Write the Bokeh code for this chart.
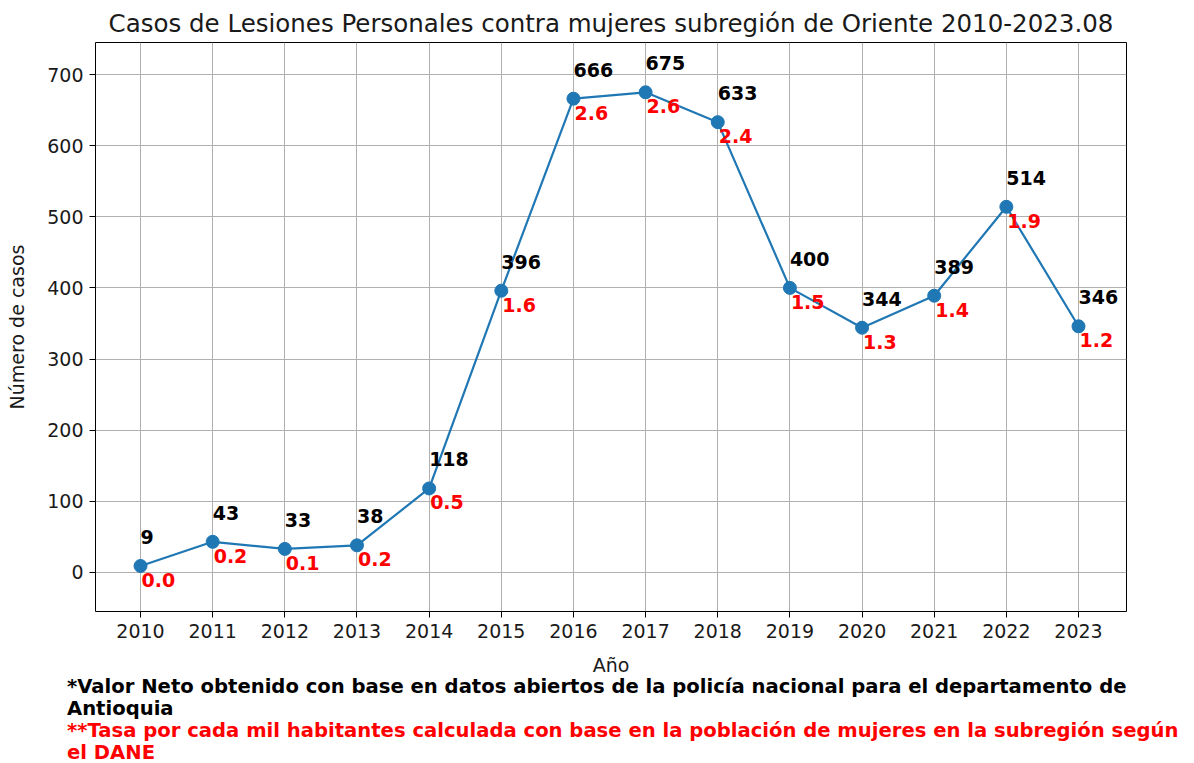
from bokeh.plotting import figure
from bokeh.models import ColumnDataSource, Range1d, FixedTicker, Div
from bokeh.layouts import column
from bokeh.embed import file_html
from bokeh.resources import INLINE
from bokeh.core.properties import value

years = [2010, 2011, 2012, 2013, 2014, 2015, 2016, 2017, 2018, 2019, 2020, 2021, 2022, 2023]
cases = [9, 43, 33, 38, 118, 396, 666, 675, 633, 400, 344, 389, 514, 346]
rates = [0.0, 0.2, 0.1, 0.2, 0.5, 1.6, 2.6, 2.6, 2.4, 1.5, 1.3, 1.4, 1.9, 1.2]
y_ticks = [0, 100, 200, 300, 400, 500, 600, 700]

title = "Casos de Lesiones Personales contra mujeres subregión de Oriente 2010-2023.08"
note1a = "*Valor Neto obtenido con base en datos abiertos de la policía nacional para el departamento de"
note1b = "Antioquia"
note2a = "**Tasa por cada mil habitantes calculada con base en la población de mujeres en la subregión según"
note2b = "el DANE"

W = 1178
H_MAIN = 678
H_FOOT = 77
FL, FR, FT, FB = 95, 1126, 42, 611
X0, X1 = 2009.376, 2023.665
Y0, Y1 = -55, 745

FONT = "DejaVu Sans"

src = ColumnDataSource(dict(
    x=years, y=cases,
    ct=[str(c) for c in cases],
    rt=[f"{r:.1f}" for r in rates],
))

p = figure(width=W, height=H_MAIN, output_backend="svg", toolbar_location=None,
           x_range=Range1d(X0, X1), y_range=Range1d(Y0, Y1),
           min_border_left=FL, min_border_right=W - FR,
           min_border_top=FT, min_border_bottom=H_MAIN - FB)
p.title.text = title
p.title.align = "center"
p.title.text_font = FONT
p.title.text_font_size = "24.5px"
p.title.text_font_style = "normal"
p.title.text_color = "#1a1a1a"
p.title.standoff = 9

p.outline_line_color = "black"
p.outline_line_width = 1
p.background_fill_color = "white"
p.border_fill_color = "white"

for ax in (p.xaxis, p.yaxis):
    ax.axis_line_color = None
    ax.minor_tick_line_color = None
    ax.major_tick_out = 6
    ax.major_tick_in = 0
    ax.major_tick_line_color = "black"
    ax.major_label_text_font = FONT
    ax.major_label_text_font_size = "19px"
    ax.major_label_text_color = "#1a1a1a"
    ax.axis_label_text_font = FONT
    ax.axis_label_text_font_size = "19px"
    ax.axis_label_text_font_style = "normal"
    ax.axis_label_text_color = "#1a1a1a"

p.xaxis.ticker = FixedTicker(ticks=years)
p.yaxis.ticker = FixedTicker(ticks=y_ticks)
p.xaxis.axis_label = "Año"
p.yaxis.axis_label = "Número de casos"
p.xaxis.axis_label_standoff = 13
p.xaxis.major_label_standoff = 6
p.yaxis.major_label_standoff = 6
p.yaxis.axis_label_standoff = 16

p.xgrid.ticker = FixedTicker(ticks=years)
p.ygrid.ticker = FixedTicker(ticks=y_ticks)
p.grid.grid_line_color = "#b0b0b0"
p.grid.grid_line_width = 1

p.line("x", "y", source=src, line_color="#1f77b4", line_width=2.2)
p.scatter("x", "y", source=src, size=13, fill_color="#1f77b4", line_color="#1f77b4")

p.text("x", "y", text="ct", source=src, x_offset=0, y_offset=-29,
       text_font=value(FONT), text_font_style="bold", text_font_size="19px",
       text_color="black", text_baseline="alphabetic", text_align="left")
p.text("x", "y", text="rt", source=src, x_offset=1, y_offset=7,
       text_font=value(FONT), text_font_style="bold", text_font_size="19px",
       text_color="red", text_baseline="top", text_align="left")

html = (
    f'<div style="color:black">{note1a}<br>{note1b}</div>'
    f'<div style="color:red">{note2a}<br>{note2b}</div>'
)
foot = Div(text=html, width=W, height=H_FOOT,
           styles={"font-family": "'DejaVu Sans', sans-serif",
                   "font-weight": "bold", "font-size": "19.6px", "line-height": "22px",
                   "padding-left": "62px", "margin-top": "-2px",
                   "white-space": "nowrap", "overflow": "visible",
                   "box-sizing": "border-box"})

layout = column(p, foot, spacing=0)
open("out.html", "w").write(file_html(layout, INLINE))
